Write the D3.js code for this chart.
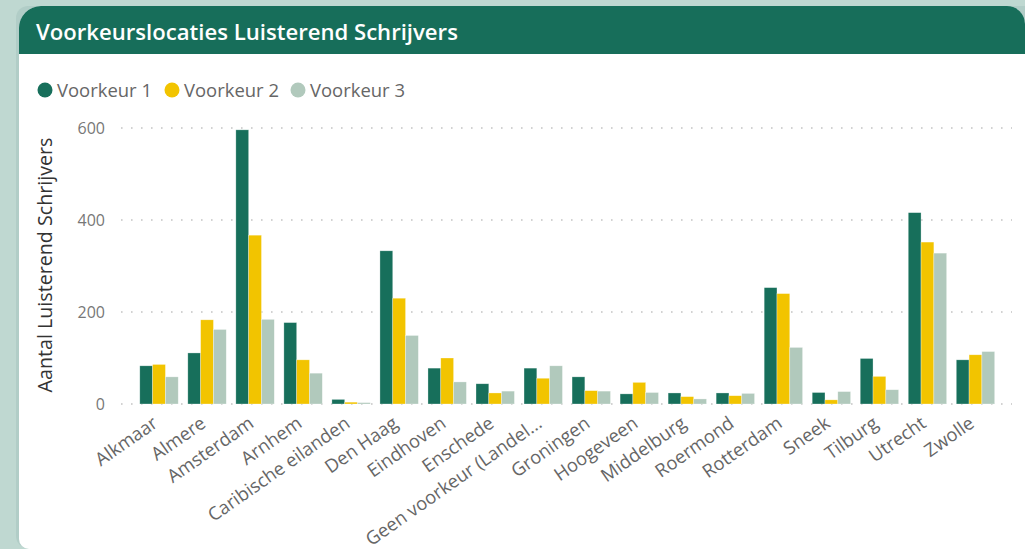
<!DOCTYPE html>
<html>
<head>
<meta charset="utf-8">
<script src="https://cdn.jsdelivr.net/npm/d3@7"></script>
<style>
  body { margin: 0; background: #bfd8d1; }
  svg { display: block; font-family: "Open Sans", sans-serif; }
</style>
</head>
<body>
<svg id="chart" width="1025" height="549"></svg>
<script>
var categories = ["Alkmaar", "Almere", "Amsterdam", "Arnhem", "Caribische eilanden", "Den Haag",
  "Eindhoven", "Enschede", "Geen voorkeur (Landel...", "Groningen", "Hoogeveen", "Middelburg",
  "Roermond", "Rotterdam", "Sneek", "Tilburg", "Utrecht", "Zwolle"];
var voorkeur1 = [83, 111, 596, 177, 10, 333, 78, 44, 78, 59, 22, 24, 24, 253, 25, 99, 416, 96];
var voorkeur2 = [86, 183, 367, 96, 4, 230, 100, 24, 56, 29, 47, 16, 18, 240, 9, 60, 352, 107];
var voorkeur3 = [59, 162, 184, 67, 3, 149, 48, 28, 83, 28, 25, 11, 23, 123, 27, 31, 328, 114];
var seriesNames = ["Voorkeur 1", "Voorkeur 2", "Voorkeur 3"];
var yTicks = [0, 200, 400, 600];

var colors = ["#176f5b", "#f2c400", "#b1c9bc"];

var svg = d3.select("#chart");

// card background
svg.append("rect").attr("width", 1025).attr("height", 549).attr("fill", "#bfd8d1");
svg.append("rect")
  .attr("x", 16).attr("y", 6).attr("width", 1030).attr("height", 542)
  .attr("rx", 12).attr("fill", "#a9c7bf").attr("opacity", 0.6);
svg.append("path")
  .attr("d", "M19,28 A22,22 0 0 1 41,6 L1007,6 A18,18 0 0 1 1025,24 L1025,549 L29,549 A10,10 0 0 1 19,539 Z")
  .attr("fill", "#ffffff");
svg.append("path")
  .attr("d", "M19,28 A22,22 0 0 1 41,6 L1007,6 A18,18 0 0 1 1025,24 L1025,54 L19,54 Z")
  .attr("fill", "#176e5a");

function fitWidth(sel, target) {
  var w = sel.node().getComputedTextLength();
  var fs = parseFloat(sel.attr("font-size"));
  sel.attr("font-size", (fs * target / w).toFixed(2));
  return fs * target / w;
}

var title = svg.append("text")
  .attr("x", 36).attr("y", 40)
  .attr("font-size", 20).attr("font-weight", 600)
  .attr("fill", "#ffffff")
  .text("Voorkeurslocaties Luisterend Schrijvers");
fitWidth(title, 422);

// legend
var legendX = [45, 172, 298];
var legend = svg.append("g").selectAll("g")
  .data(seriesNames)
  .enter().append("g")
    .attr("transform", function(d, i) { return "translate(" + legendX[i] + ",90)"; });
legend.append("circle").attr("r", 7.5).attr("fill", function(d, i) { return colors[i]; });
legend.append("text")
  .attr("x", 12).attr("dy", "0.36em")
  .attr("font-size", 16).attr("fill", "#666666")
  .text(function(d) { return d; })
  .each(function() { fitWidth(d3.select(this), 95); });

// scales
var x = d3.scaleBand()
  .domain(categories)
  .range([135, 999.5])
  .paddingInner(0.2)
  .paddingOuter(0.1);

var x1 = d3.scaleBand()
  .domain(d3.range(3))
  .range([0, x.bandwidth()]);

var y = d3.scaleLinear()
  .domain([0, 600])
  .range([404, 128]);

// gridlines
svg.append("g").selectAll("line")
  .data(yTicks)
  .enter().append("line")
    .attr("x1", 121).attr("x2", 1012)
    .attr("y1", function(d) { return y(d); })
    .attr("y2", function(d) { return y(d); })
    .attr("stroke", "#c4c4c4")
    .attr("stroke-width", 1.6)
    .attr("stroke-dasharray", "1.6,8.4");

// y axis
var yAxis = svg.append("g")
  .attr("transform", "translate(105,0)")
  .call(d3.axisLeft(y).tickValues(yTicks).tickSize(0).tickPadding(0));
yAxis.select(".domain").remove();
yAxis.selectAll("text")
  .attr("font-family", "Open Sans, sans-serif")
  .attr("font-size", 16)
  .attr("fill", "#777777");

var yTitle = svg.append("text")
  .attr("transform", "translate(52,265) rotate(-90)")
  .attr("text-anchor", "middle")
  .attr("font-size", 17)
  .attr("fill", "#333333")
  .text("Aantal Luisterend Schrijvers");
fitWidth(yTitle, 255);

// bars
var series = [voorkeur1, voorkeur2, voorkeur3];
var groups = svg.append("g").selectAll("g")
  .data(categories)
  .enter().append("g")
    .attr("transform", function(d) { return "translate(" + x(d) + ",0)"; });

groups.selectAll("rect")
  .data(function(d, ci) { return series.map(function(s, si) { return {si: si, v: s[ci]}; }); })
  .enter().append("rect")
    .attr("x", function(d) { return x1(d.si); })
    .attr("y", function(d) { return y(d.v); })
    .attr("width", x1.bandwidth())
    .attr("height", function(d) { return y(0) - y(d.v); })
    .attr("fill", function(d) { return colors[d.si]; })
    .attr("stroke", "#ffffff")
    .attr("stroke-opacity", 0.5)
    .attr("stroke-width", 0.6);

// x axis labels
var xAxis = svg.append("g")
  .attr("transform", "translate(0,404)")
  .call(d3.axisBottom(x).tickSize(0).tickPadding(0));
xAxis.select(".domain").remove();
var labels = xAxis.selectAll("text")
  .attr("font-family", "Open Sans, sans-serif")
  .attr("font-size", 14.5)
  .attr("fill", "#666666")
  .attr("text-anchor", "end")
  .attr("x", 0)
  .attr("y", 0)
  .attr("dy", "0")
  .attr("transform", "translate(0,22) rotate(-35)");
var labelSize = fitWidth(labels.filter(function(d) { return d === "Caribische eilanden"; }), 168);
labels.attr("font-size", labelSize.toFixed(2));
</script>
</body>
</html>
